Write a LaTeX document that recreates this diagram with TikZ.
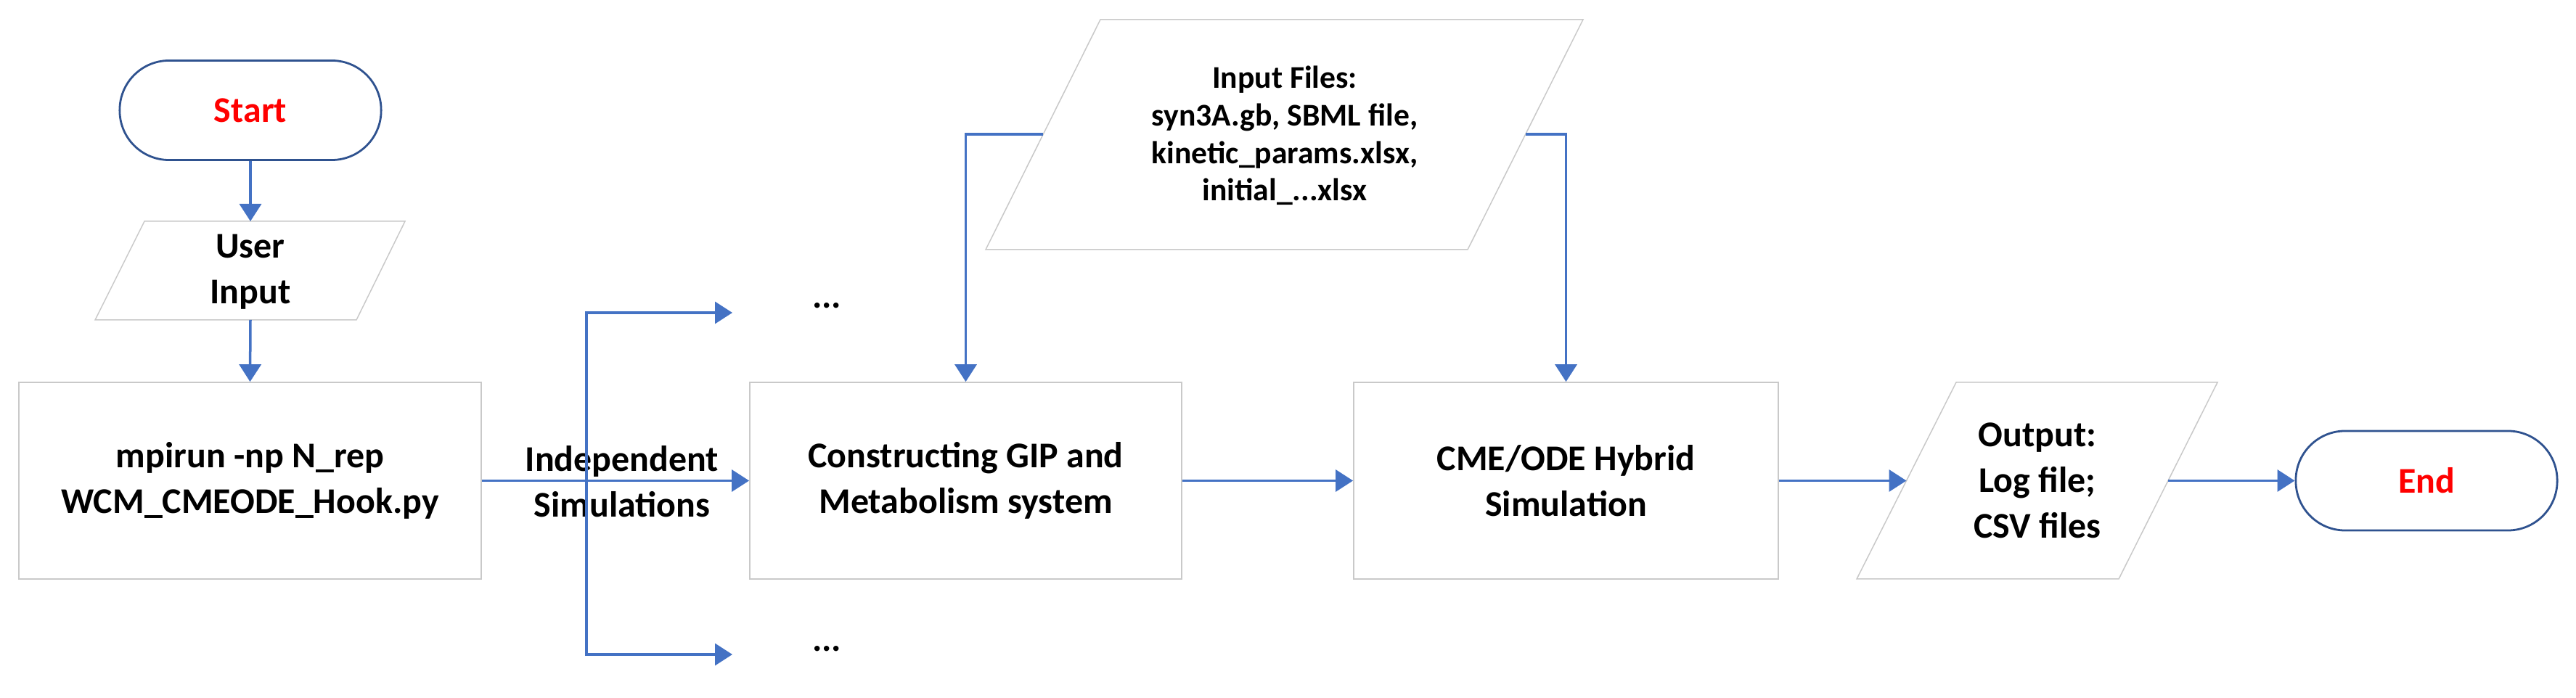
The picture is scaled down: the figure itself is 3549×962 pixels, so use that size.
\documentclass[tikz,border=0pt]{standalone}
\usepackage{fontspec}
\setmainfont{Carlito}
\usetikzlibrary{arrows.meta}
\definecolor{arrblue}{HTML}{4472C4}
\definecolor{termblue}{HTML}{2F528F}
\definecolor{boxgray}{HTML}{C9C9C9}
\begin{document}
\begin{tikzpicture}[x=0.01cm,y=-0.01cm,
  txt/.style={font=\fontsize{14.2pt}{17.9pt}\selectfont\bfseries, align=center, inner sep=0pt},
  smalltxt/.style={font=\fontsize{12.4pt}{14.65pt}\selectfont\bfseries, align=center, inner sep=0pt},
  term/.style={draw=termblue, line width=0.028cm, rounded corners=0.68cm, minimum width=3.6cm, minimum height=1.37cm, txt, text=red},
  procbox/.style={draw=boxgray, line width=0.015cm, minimum height=2.71cm, txt},
  io/.style={draw=boxgray, line width=0.015cm},
  conn/.style={draw=arrblue, line width=0.035cm, -{Triangle[width=0.3cm,length=0.24cm]}}
]
\useasboundingbox (0,0) rectangle (3549,962);

% shapes
\node[term] (start) at (345,152) {Start};
\draw[io] (199,305) -- (558,305) -- (491,441) -- (131,441) -- cycle;
\node[txt] (user) at (345,375) {User\\Input};
\node[procbox, minimum width=6.37cm] (mpi) at (344.5,662.5) {mpirun -np N\_rep\\WCM\_CMEODE\_Hook.py};
\node[procbox, minimum width=5.95cm] (gip) at (1330.5,662.5) {Constructing GIP and\\Metabolism system};
\node[procbox, minimum width=5.85cm] (cme) at (2157.5,662.5) {CME/ODE Hybrid\\Simulation};
\draw[io] (2695,527) -- (3055,527) -- (2919,798) -- (2558,798) -- cycle;
\node[txt] (out) at (2807,662.5) {Output:\\Log file;\\CSV files};
\node[term] (end) at (3343,662.5) {End};
\draw[io] (1516,27) -- (2181,27) -- (2022,344) -- (1358,344) -- cycle;
\node[smalltxt] (inp) at (1770,187) {Input Files:\\syn3A.gb, SBML file,\\kinetic\_params.xlsx,\\initial\_...xlsx};
\node[txt] (indep) at (857,664) {Independent\\Simulations};
\node[txt, anchor=base] (dots1) at (1139,425) {...};
\node[txt, anchor=base] (dots2) at (1139,898) {...};

% coordinates
\coordinate (uiT) at (345,305);
\coordinate (uiB) at (345,441);
\coordinate (br) at (808,662.5);
\coordinate (d1) at (1009,431);
\coordinate (d2) at (1009,902);
\coordinate (inL) at (1437,185);
\coordinate (inR) at (2102,185);
\coordinate (outL) at (2626.5,662.5);
\coordinate (outR) at (2987,662.5);

% connectors
\draw[conn] (start.south) -- (uiT);
\draw[conn] (uiB) -- (mpi.north);
\draw[conn] (mpi.east) -- (gip.west);
\draw[conn] (br) |- (d1);
\draw[conn] (br) |- (d2);
\draw[conn] (inL) -| (gip.north);
\draw[conn] (inR) -| (cme.north);
\draw[conn] (gip.east) -- (cme.west);
\draw[conn] (cme.east) -- (outL);
\draw[conn] (outR) -- (end.west);
\end{tikzpicture}
\end{document}
